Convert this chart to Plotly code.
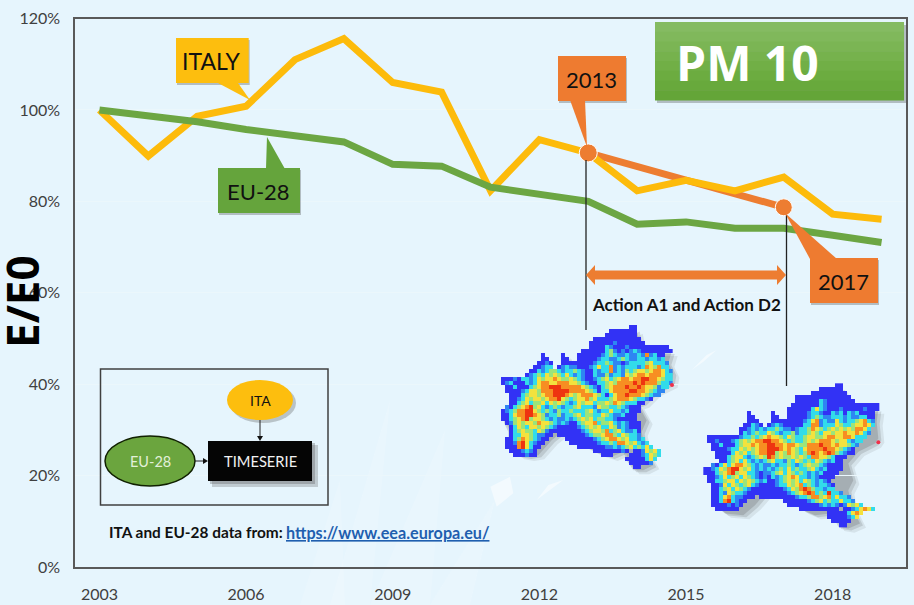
import plotly.graph_objects as go

years = list(range(2003, 2020))
italy = [100, 89.9, 98.6, 100.8, 111, 115.6, 106, 103.9, 82.3, 93.5, 90.6, 82.3, 84.6, 82.3, 85.3, 77.2, 76.1]
eu28 = [100, 98.8, 97.4, 95.7, 94.4, 93, 88.1, 87.7, 83.1, 81.5, 80, 75, 75.5, 74.1, 74.1, 72.6, 71]
action_years = [2013, 2017]
action_vals = [90.6, 78.7]
x_ticks = [2003, 2006, 2009, 2012, 2015, 2018]
y_ticks = [0, 20, 40, 60, 80, 100, 120]

# Concentration maps: B blue, M mid blue, C cyan, G green, Y yellow, O orange, R red
map1_rows = [
".................................BB",
"............................BBBBBBB",
"...........................BBBBBBBB",
"........................BBBBBBBBBBBB",
".......................BBBBBBMBBBBBBB",
".......................BBBBCMBBBMBBBBBBBBBB",
".....................BBBBBBCGMBMBMCMBBBBBBBB",
"...........B....B...BBBBBBMCGCMMCMMCMOMCBB",
"...........BB...BB..BBBBBMCCMMCGCMMCCMCCMC",
"..........BBMB..BBBBBBBBMCCGCMMBMCCCCGYCCCM",
".........BBMCC.BMCMMBBBMCYCCOMCMCCCMCOYGOCC",
"........BBCMCGGCMCCGCMBBCMCCOMCMGCGYYGYOOYCM",
".......BMCGCYGYGCYCMCMBBCMMGMCCMYGYOOYOOOYCC",
".BBBMBCCMCYGYYOYGGYGCMBBMCGYCGYOOYOORROOYGCC",
".BMCBBBCMCYOOYYOOOYYGCMBBCCGYGOOOOROROOOGCCM",
"..BBCBBBCGYOORRROOOOOYGCMBCGYOOOROOROYYGMCC",
"..BBBBMCYYGOOORRRROOOOYGCBCCYOOOORROOYGCMM",
"...BBBCGYYGYOORRROYGYOOOYGCBCYOOROOOYGCMM",
"...BBMCYGYYGYOORYGCGYYOGYCCCGYOOOYGCCMB",
"...BBCGYCGGYCYGYGCMCYGYYCGGYGOYGCCCBB",
"..MBCGYORGYCMCGCMCCGYCCCMYGGCCGCMBBB",
".BMCGOORRYGCGCMGCCGCCCGYCMCCYCCMCBBB",
".BBCYOORROYGMCCGMCCGYCGGCCYGCMMCBBB",
".BBCGYORGYYGCMCMMCMCGYGYCGGCCMBBBBB",
"..BMGYGYYGOYYGCMCMBBCGYYOCGGYCMCMBBB",
"...BCYGCYYGYGCMBBBBBMCGYGYCCYGMCMBBB",
"...BCGYGGCYGMBBBBBBBBMCGYYGOCGYCMMCB",
"...BCCYYGCMMBB.BBBBBBBMCGGYOOGCYGCCM",
"..BBCGOYGCMBB....BBBBBBBMCGYOOYGYCCMC",
"..BBMORYCMBB......BBBBBBBMCCGCOOYGYCMC",
"..BBBORYCBB.........BBBBBBBMMCMCGYCGCYC",
"...BBBMCMB..............BBBBBBBMB.BBMYGYC",
"....BBBMBB................BBB....BBBMCYGC",
"................................BBBBBCYC",
".................................BBBBBM",
"..................................BB",
]
map2_rows = [
".................................BB",
".............................BBBBBB",
"...........................BBBBBBBBB",
".......................BBBBBBBBBBBBBB",
".......................BBBBBBCMBBBBBBB",
"......................BBBBBBBCMBBBBBBBBBBBBB",
".....................BBBBBBCYCMBBBMBBBBBMBBB",
"...........B.....B...BBBBBMCCMBBCMCBCMCBBBB",
"...........BB....BB..BBBBBMCGCMMCCCMCMMCCBB",
"...........BBB...BBBBBBBBMCYOMCMMYCMCCGYOCM",
"..........BBCMB.BMCMBBBBBCCOOMCCCYGCCGYYOYC",
".........BBMCMCMCCGCMMBMCCGOYGCGYGYGYGOOYC",
".........BCMCGCCYGCMCCGMCCGYGCYYGYYOYYOYCM",
".BBBBBBBBMCCGCGYOYYGCYGCCGYYGGYOOYYOOYCCC",
".BBMBBBMCGYGYOORROOYGCGCCGYGYOOOYGYYCMCC",
"..BBCBBBCGYYOYOORROOYOOYGGOOOROOYOYYGCM",
"..BBBBMCCYGYGYOORRROYOYGCYOOOOROOYGCMB",
"...BBBBCYGYCGYOORRGYGOYGCGOROYOROGCMBB",
"...BBBCGYYCMCGYGROGYGGYGYGCOOYYGCBBB",
"....BBCGYCYCMCMCGYCCMGCYGCGCYGCMCBB",
"..MBCYCYOOYGCMCMMCMCCGCMCGYGGCMBBBB",
"BBMCYGORRYGYCMCMCMCGCYCGCCGYCMCBBBB",
"BBBCGYORGYYCCMBMMCGYCYGCGCMCMCBBBB",
".BBMCYCGYCYGCMBMBCMCGYOYCCMCMBBBB",
".BBCCGYYCYGYGCMCBBMCGYGYCYGCMCMB",
"..BBMYCYGCGYCMBBBBMCCYGYOCGCMCCMB",
"..BBCGYCYGCMBBBBBBBBMCYGOROGCCMCC",
"..BBCMYGCCMBBBBBBBBBBMCGYOROCGCRCCM",
"..BBCYOCMMBBB.BBBBBBBBBMCCGOOGYOCYCCM",
"..BBCORCMBB.........BBBBBBMCGYCGCCYCCM",
"..BBBBMBMB...........BBBBBBBBMCMCMBMYGYC",
"...BBBBBB...............BBBBBBBBBB.BBMCYOYC",
"...............................BBBBBCYOY",
"...............................BBBBBMCY",
"................................BBBBB",
"..................................BB",
]
map1_outline = [(22,270),(38,262),(60,250),(40,205),(36,180),(65,172),(110,168),(135,130),(150,105),(158,140),(175,150),(210,130),(218,98),(232,122),(265,115),(275,125),(272,92),(295,80),(300,55),(345,50),(355,35),(395,35),(425,18),(432,50),(465,85),(530,85),(520,118),(535,150),(530,180),(480,205),(445,240),(430,245),(455,290),(440,325),(450,380),(475,425),(445,440),(415,440),(395,410),(385,385),(350,400),(305,385),(265,365),(235,350),(195,330),(170,350),(130,395),(100,400),(70,395),(40,370),(40,325),(28,300)]
map2_outline = [(642,450),(660,440),(680,425),(675,385),(655,355),(690,345),(740,340),(770,278),(778,310),(800,325),(825,315),(838,272),(848,295),(885,295),(893,310),(890,265),(915,250),(920,228),(960,225),(985,205),(1040,193),(1050,225),(1090,260),(1150,258),(1145,295),(1150,345),(1140,360),(1090,385),(1060,420),(1075,470),(1060,500),(1070,550),(1095,600),(1060,615),(1030,610),(1015,580),(1005,570),(960,575),(925,560),(880,530),(835,500),(810,510),(780,545),(745,575),(690,570),(660,545),(660,500),(645,475)]
wisps = [[(605,150),(650,105),(680,90),(640,125)],[(140,540),(175,495),(220,480),(180,510)],[(1,500),(60,470),(70,520),(20,560)]]
fan = [[(330,605),(390,400),(370,605)],[(370,605),(445,430),(430,605)],[(300,605),(340,480),(345,605)],[(430,605),(495,500),(470,605)]]

W, H = 914, 605
BG = "#E6F5FD"
L, R, T, B = 75, 906, 18.5, 567
shapes, notes = [], []

def fx(x): return x / W
def fy(y): return 1 - y / H

def poly(pts, fill, line=None, lw=0, layer="above"):
    path = "M" + " L".join(f"{fx(x):.5f},{fy(y):.5f}" for x, y in pts) + " Z"
    shapes.append(dict(type="path", xref="paper", yref="paper", path=path, fillcolor=fill,
                       line=dict(color=line or "rgba(0,0,0,0)", width=lw), layer=layer))

def rect(x0, y0, x1, y1, fill, line=None, lw=0, layer="above"):
    shapes.append(dict(type="rect", xref="paper", yref="paper", x0=fx(x0), x1=fx(x1), y0=fy(y0), y1=fy(y1),
                       fillcolor=fill, line=dict(color=line or "rgba(0,0,0,0)", width=lw), layer=layer))

def oval(cx, cy, rx, ry, fill, line=None, lw=0):
    shapes.append(dict(type="circle", xref="paper", yref="paper", x0=fx(cx-rx), x1=fx(cx+rx), y0=fy(cy-ry), y1=fy(cy+ry),
                       fillcolor=fill, line=dict(color=line or "rgba(0,0,0,0)", width=lw), layer="above"))

def seg(x0, y0, x1, y1, color="#222222", lw=1.3):
    shapes.append(dict(type="line", xref="paper", yref="paper", x0=fx(x0), x1=fx(x1), y0=fy(y0), y1=fy(y1),
                       line=dict(color=color, width=lw), layer="above"))

def text(x, y, s, size, color="#111111", family="Lato", anchor="center"):
    notes.append(dict(xref="paper", yref="paper", x=fx(x), y=fy(y), text=s, showarrow=False, xanchor=anchor, yanchor="middle",
                      font=dict(size=size, color=color, family=family)))

def crop(pts):
    return [(490 + x / 3, 320 + y / 3) for x, y in pts]

# background
for p in fan:
    poly(p, "rgba(255,255,255,0.15)", layer="below")
for p in wisps:
    poly(crop(p), "rgba(255,255,255,0.5)", layer="below")

# vertical markers and span arrow
seg(586, 160, 586, 330)
seg(786.5, 215, 786.5, 386)
ORANGE = "#ED7D31"
poly([(586,275),(595,265),(595,270.5),(777,270.5),(777,265),(786,275),(777,285),(777,279.5),(595,279.5),(595,285)], ORANGE)
text(686, 304, "<b>Action A1 and Action D2</b>", 17)

# callouts
def callout(x0, y0, x1, y1, tail, fill, label, size=22):
    rect(x0+1, y0+2, x1+1, y1+2, "rgba(60,60,60,0.3)")
    poly(tail, fill)
    rect(x0, y0, x1, y1, fill)
    text((x0+x1)/2 - 0.5, (y0+y1)/2 + 0.5, label, size)

callout(176, 38, 248.7, 83, [(218,83),(238,83),(250,100)], "#FDBE0E", "ITALY", 23)
callout(218, 168, 300, 213, [(266,169),(285,169),(267,137)], "#65A43C", "EU-28", 22)
callout(558, 56, 626, 101, [(570,100),(585,100),(587,147)], "#EE7B30", "2013", 22)
callout(810, 258, 878, 303, [(810,259),(837,259),(785,213)], "#EE7B30", "2017", 22)

# PM 10 box
rect(657, 25, 906, 103, "rgba(60,60,60,0.3)")
bands = ["#85BB62", "#80B85B", "#7BB554", "#76B24D", "#71AF46", "#6CAC40", "#68A93C", "#64A538"]
for i, c in enumerate(bands):
    rect(655, 22 + i*9.75, 904, 22 + (i+1)*9.75 + 0.5, c)
text(747, 62, "<b>PM 10</b>", 48, "#FFFFFF", "Open Sans")

# y title
notes.append(dict(xref="paper", yref="paper", x=fx(22), y=fy(302), text="<b>E/E0</b>", textangle=-90, showarrow=False,
                  xanchor="center", yanchor="middle", font=dict(size=44, color="#000000", family="Open Sans")))

# inset diagram
rect(100.5, 369, 328, 505, "rgba(0,0,0,0)", "#404040", 1.5)
rect(212, 445, 318, 487, "rgba(80,80,80,0.25)")
rect(210, 443, 315, 484, "rgba(80,80,80,0.3)")
oval(263, 403, 33, 20, "rgba(80,80,80,0.3)")
oval(260, 400, 33, 20, "#FDBE0E")
text(260, 400, "ITA", 14)
seg(260, 420, 260, 436, lw=1)
poly([(257,436),(263,436),(260,441)], "#111111")
rect(208, 441, 312, 481, "#050505")
text(260, 461, "TIMESERIE", 14.7, "#F2F2F2")
oval(150, 461, 45, 25, "#6BA53E", "#102000", 1.5)
text(150, 461, "EU-28", 14.5, "#E2F0D9")
seg(195, 461, 204, 461, lw=1)
poly([(203,458),(203,464),(208,461)], "#111111")
text(107, 532, "<b>ITA and EU-28 data from:</b>", 15.4, "#111111", anchor="left")
text(284, 532, "<b><u>https://www.eea.europa.eu/</u></b>", 16.2, "#1F5FAF", anchor="left")

# map shadows and stray cells
for outline, stray in [(map1_outline, (546,195)), (map2_outline, (1165,367))]:
    o = crop(outline)
    for d, a in [(11, 0.10), (8, 0.16), (5, 0.2)]:
        poly([(x+d, y+d*0.7) for x, y in o], f"rgba(70,70,70,{a})", layer="below")
    sx, sy = crop([stray])[0]
    oval(sx, sy, 2, 2, "#F0304A")

LEVEL = dict(B=0, M=1, C=2, G=3, Y=4, O=5, R=6)
SCALE = [[0, "#3232F5"], [1/6, "#2E86F2"], [2/6, "#32DCEA"], [3/6, "#9CE47A"], [4/6, "#F3E23E"], [5/6, "#F78E22"], [1, "#EE3410"]]

def grid(rows):
    n = max(len(r) for r in rows)
    return [[LEVEL.get(c) for c in r.ljust(n, ".")] for r in rows]

fig = go.Figure()
fig.add_trace(go.Scatter(x=action_years, y=action_vals, mode="lines", line=dict(color=ORANGE, width=7), showlegend=False))
fig.add_trace(go.Scatter(x=years, y=italy, mode="lines", line=dict(color="#FDBB0B", width=7), showlegend=False))
fig.add_trace(go.Scatter(x=years, y=eu28, mode="lines", line=dict(color="#6CA643", width=7), showlegend=False))
fig.add_trace(go.Scatter(x=action_years, y=action_vals, mode="markers", marker=dict(color=ORANGE, size=[18, 17], opacity=1), showlegend=False))
for rows, ox, oy in [(map1_rows, 20, 15), (map2_rows, 640, 190)]:
    fig.add_trace(go.Heatmap(z=grid(rows), x0=490 + (ox + 6) / 3, dx=4, y0=320 + (oy + 6) / 3, dy=4, xaxis="x2", yaxis="y2",
                             colorscale=SCALE, zmin=0, zmax=6, showscale=False, zsmooth=False, hoverinfo="skip"))

fig.update_layout(
    width=W, height=H, autosize=False, margin=dict(l=0, r=0, t=0, b=0),
    paper_bgcolor=BG, plot_bgcolor="rgba(0,0,0,0)", shapes=shapes, annotations=notes,
    xaxis=dict(domain=[L/W, R/W], range=[2002.5, 2019.5], tickvals=x_ticks, ticktext=[str(v) for v in x_ticks],
               showgrid=False, zeroline=False, showline=True, linecolor="#595959", linewidth=1.5, mirror=True,
               ticks="outside", ticklen=12, tickcolor="rgba(0,0,0,0)", automargin=False,
               tickfont=dict(family="Lato", size=16, color="#404040")),
    yaxis=dict(domain=[1-B/H, 1-T/H], range=[0, 120], tickvals=y_ticks, ticktext=[f"{v}%" for v in y_ticks],
               showgrid=True, gridcolor="#EBF7FC", gridwidth=1, zeroline=False, showline=True, linecolor="#595959",
               linewidth=1.5, mirror=True, ticks="outside", ticklen=10, tickcolor="rgba(0,0,0,0)", automargin=False,
               tickfont=dict(family="Lato", size=16, color="#404040")),
    xaxis2=dict(range=[L, R], visible=False, overlaying="x", fixedrange=True),
    yaxis2=dict(range=[B, T], visible=False, overlaying="y", fixedrange=True),
)
fig.write_html("out.html", config=dict(displayModeBar=False),
               post_script="document.body.style.margin='0';document.documentElement.style.overflow='hidden';")
